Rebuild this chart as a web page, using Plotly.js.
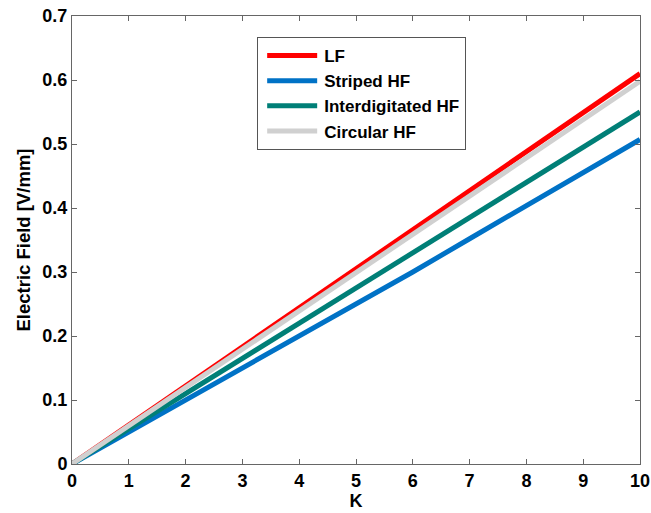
<!DOCTYPE html>
<html>
<head>
<meta charset="utf-8">
<script src="https://cdn.plot.ly/plotly-3.0.1.min.js"></script>
<style>
  html, body { margin: 0; padding: 0; background: #fff; }
  #chart { width: 651px; height: 513px; }
</style>
</head>
<body>
<div id="chart"></div>
<script>
// Field strength versus K for each electrode layout
const K = [0, 1, 2, 3, 4, 5, 6, 7, 8, 9, 10];
const seriesNames = ['LF', 'Striped HF', 'Interdigitated HF', 'Circular HF'];
const lf = [0, 0.061, 0.122, 0.183, 0.244, 0.305, 0.366, 0.427, 0.488, 0.549, 0.610];
const striped = [0, 0.050, 0.100, 0.150, 0.199, 0.248, 0.300, 0.352, 0.404, 0.456, 0.507];
const interdigitated = [0, 0.055, 0.110, 0.165, 0.220, 0.275, 0.330, 0.385, 0.440, 0.495, 0.550];
const circular = [0, 0.0598, 0.1196, 0.1794, 0.2392, 0.299, 0.3588, 0.4186, 0.4784, 0.5382, 0.598];
const xTicks = [0, 1, 2, 3, 4, 5, 6, 7, 8, 9, 10];
const yTicks = [0, 0.1, 0.2, 0.3, 0.4, 0.5, 0.6, 0.7];
const yTickText = ['0', '0.1', '0.2', '0.3', '0.4', '0.5', '0.6', '0.7'];

const colors = ['#ff0000', '#0072c6', '#007f77', '#d0d0d0'];
const values = [lf, striped, interdigitated, circular];

const traces = values.map((v, i) => ({
  x: K,
  y: v,
  name: seriesNames[i],
  type: 'scatter',
  mode: 'lines',
  line: { color: colors[i], width: 5 }
}));

const family = 'Liberation Sans, Arial, sans-serif';
const tickFont = { family: family, size: 18, weight: 'bold', color: '#000' };

const layout = {
  width: 651,
  height: 513,
  margin: { l: 72, r: 11, t: 16, b: 49 },
  paper_bgcolor: '#fff',
  plot_bgcolor: '#fff',
  showlegend: true,
  font: { family: family, color: '#000' },
  xaxis: {
    range: [0, 10],
    tickvals: xTicks,
    ticktext: xTicks.map(String),
    ticks: 'inside',
    ticklen: 5,
    tickcolor: '#666',
    showline: true,
    linecolor: '#666',
    linewidth: 1,
    mirror: 'ticks',
    showgrid: false,
    zeroline: false,
    tickfont: tickFont,
    title: { text: '<b>K</b>', font: { family: family, size: 18, color: '#000' }, standoff: 3 }
  },
  yaxis: {
    range: [0, 0.7],
    tickvals: yTicks,
    ticktext: yTickText,
    ticks: 'inside',
    ticklen: 5,
    tickcolor: '#666',
    showline: true,
    linecolor: '#666',
    linewidth: 1,
    mirror: 'ticks',
    showgrid: false,
    zeroline: false,
    tickfont: tickFont,
    title: { text: '<b>Electric Field [V/mm]</b>', font: { family: family, size: 18.5, color: '#000' }, standoff: 6 }
  },
  legend: {
    x: 0.326,
    y: 0.953,
    xanchor: 'left',
    yanchor: 'top',
    bgcolor: '#fff',
    bordercolor: '#555',
    borderwidth: 1,
    itemwidth: 56,
    font: { family: family, size: 17, weight: 'bold', color: '#000' },
    tracegroupgap: 0
  }
};

// Longer legend swatches, offset slightly from the box edge
function styleLegendLines() {
  document.querySelectorAll('#chart .legend .legendlines path').forEach(p => {
    p.setAttribute('d', 'M9,0h50');
  });
}

Plotly.newPlot('chart', traces, layout, { displayModeBar: false, staticPlot: true })
  .then(styleLegendLines);
</script>
</body>
</html>
